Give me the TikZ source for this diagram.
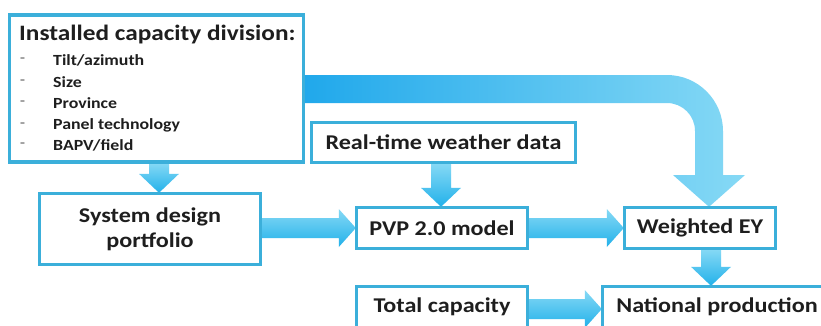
\documentclass[tikz,border=0pt]{standalone}
\usepackage{fontspec}
\setmainfont{Carlito}[FakeStretch=1.15]
\usetikzlibrary{calc}
\definecolor{boxline}{HTML}{3BAFDA}
\definecolor{arrdark}{HTML}{22B1EA}
\definecolor{arrlight}{HTML}{86D9F5}
\definecolor{txt}{HTML}{1E1E1E}
\tikzset{
  box/.style={draw=boxline, line width=2.4pt, fill=white, text=txt, font=\bfseries\fontsize{21}{25}\selectfont, inner sep=0pt, align=center},
  arrowfill/.style={top color=arrlight, bottom color=arrdark},
  item/.style={anchor=west, text=txt, font=\bfseries\fontsize{15.5}{18}\selectfont, inner sep=0pt},
  bulletdash/.style={anchor=west, text=txt!55, font=\bfseries\fontsize{14}{16}\selectfont, inner sep=0pt}
}
\newcommand\harrow[2]{%
  \path[arrowfill] let \p1=(#1), \p2=(#2) in
    (\x1,\y2+10pt) -- (\x2-17pt,\y2+10pt) -- (\x2-17pt,\y2+19pt) -- (\x2,\y2)
    -- (\x2-17pt,\y2-19pt) -- (\x2-17pt,\y2-10pt) -- (\x1,\y2-10pt) -- cycle;}
\newcommand\varrow[3]{%
  \path[arrowfill] let \p1=(#2), \p2=(#3) in
    (#1pt-10pt,\y1) -- (#1pt-10pt,\y2+19pt) -- (#1pt-20pt,\y2+19pt) -- (#1pt,\y2)
    -- (#1pt+20pt,\y2+19pt) -- (#1pt+10pt,\y2+19pt) -- (#1pt+10pt,\y1) -- cycle;}
\begin{document}
\begin{tikzpicture}[x=1pt,y=-1pt]
\useasboundingbox (0,0) rectangle (821,325);
\clip (0,0) rectangle (821,325);
\fill[white] (0,0) rectangle (821,325);
% nodes
\node[box, minimum width=293pt, minimum height=146pt] (cap) at (156.5,88.5) {};
\node[box, minimum width=263pt, minimum height=39pt] (wea) at (443.5,142.5) {Real-time weather data};
\node[box, minimum width=220pt, minimum height=70pt] (sys) at (150,229) {System design\\portfolio};
\node[box, minimum width=170pt, minimum height=40pt] (pvp) at (442,228) {PVP 2.0 model};
\node[box, minimum width=150pt, minimum height=40pt] (wey) at (700,228) {Weighted EY};
\node[box, minimum width=170pt, minimum height=44pt, text depth=8pt] (tot) at (442,309) {Total capacity};
\node[box, minimum width=228pt, minimum height=44pt, text depth=8pt] (nat) at (717,309) {National production};
% arrows
\varrow{159}{cap.south}{sys.north}
\varrow{441}{wea.south}{pvp.north}
\varrow{711}{wey.south}{nat.north}
\harrow{sys.east}{pvp.west}
\harrow{pvp.east}{wey.west}
\harrow{tot.east}{nat.west}
% big curved arrow
\path[left color=arrdark!95!blue, right color=arrlight] let \p1=(cap.east), \p2=(wey.north) in
  (\x1,-75pt) -- (667pt,-75pt) .. controls (697.9pt,-75pt) and (723pt,-100.1pt) .. (723pt,-131pt)
  -- (723pt,-175pt) -- (745pt,-175pt) -- (709pt,\y2) -- (673pt,-175pt) -- (695pt,-175pt)
  -- (695pt,-131pt) .. controls (695pt,-115.5pt) and (682.5pt,-103pt) .. (667pt,-103pt)
  -- (\x1,-103pt) -- cycle;
% redraw box outlines on top
\foreach \n in {cap,wea,sys,pvp,wey,tot,nat}
  \draw[boxline, line width=2.4pt] (\n.north west) rectangle (\n.south east);
% box 1 contents
\node[anchor=west, text=txt, font=\bfseries\fontsize{22}{26}\selectfont, inner sep=0pt] (title) at (19,35) {Installed capacity division:};
\foreach \y/\t [count=\i] in {60/{Tilt/azimuth},82/{Size},103/{Province},125/{Panel technology},145/{BAPV/field}}{
  \node[bulletdash] (d\i) at (20,\y) {-};
  \node[item] (it\i) at (53,\y) {\t};
}
\end{tikzpicture}
\end{document}
